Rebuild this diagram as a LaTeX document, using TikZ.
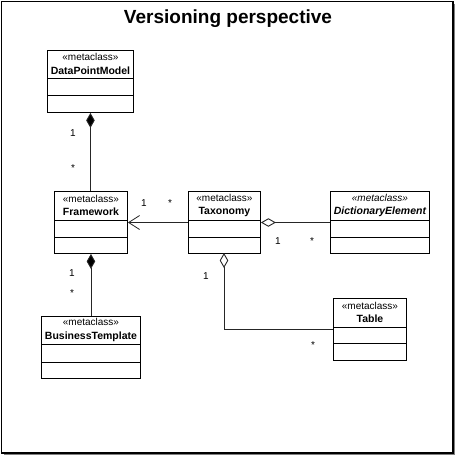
\documentclass[tikz,border=0pt]{standalone}
\usepackage{fontspec}
\setmainfont{Liberation Sans}
\usetikzlibrary{arrows.meta}
\tikzset{
  clsbox/.style={draw=black, line width=0.9pt, anchor=north west, inner sep=0pt, fill=white},
  hdr/.style={align=center, inner sep=0pt, font=\fontsize{10}{13.5}\selectfont},
  conn/.style={draw=black!85, line width=0.9pt},
  mult/.style={inner sep=0pt, font=\fontsize{10}{11}\selectfont},
  comp/.style={{Diamond[length=15pt,width=8.5pt,fill=black]}-},
  aggr/.style={{Diamond[length=15pt,width=8.5pt,open,fill=white]}-},
  nav/.style={-{Straight Barb[length=11pt,width=14pt,line width=0.8pt]}},
}
% #1 name, #2 x, #3 y, #4 width, #5 height, #6 header height, #7 second sep offset, #8 text
\newcommand{\umlcls}[8]{%
  \node[clsbox, minimum width=#4pt, minimum height=#5pt] (#1) at (#2,#3) {};
  \draw[line width=0.9pt] ([yshift=-#6pt]#1.north west) -- ([yshift=-#6pt]#1.north east);
  \draw[line width=0.9pt] ([yshift=-#7pt]#1.north west) -- ([yshift=-#7pt]#1.north east);
  \node[hdr] (#1-hdr) at ([yshift=-#6pt/2]#1.north) {#8};
}
\begin{document}
\begin{tikzpicture}[x=1pt,y=-1pt]
\useasboundingbox (0,0) rectangle (456,456);
\fill[white] (0,0) rectangle (456,456);
% frame with shadow
\draw[gray, line width=1.6pt] (4,454.6) -- (454.6,454.6) -- (454.6,4);
\draw[black, line width=1.6pt] (1.6,1.6) rectangle (452.8,452.8);
\node[font=\fontsize{19}{22}\selectfont\bfseries, anchor=base] (title) at (228,23.5) {Versioning perspective};

\umlcls{dpm}{47}{50}{86}{62}{28}{45}{«metaclass»\\{\fontsize{10.5}{13.5}\selectfont\bfseries DataPointModel}}
\umlcls{fw}{54}{191}{73}{62}{29}{46}{«metaclass»\\{\fontsize{10.5}{13.5}\selectfont\bfseries Framework}}
\umlcls{tax}{188}{191}{72}{62}{29}{46}{«metaclass»\\{\fontsize{10.5}{13.5}\selectfont\bfseries Taxonomy}}
\umlcls{dict}{330}{191}{99}{62}{29}{46}{\itshape «metaclass»\\{\fontsize{10.5}{13.5}\selectfont\bfseries\itshape DictionaryElement}}
\umlcls{bt}{41}{316}{99}{62}{28}{46}{«metaclass»\\{\fontsize{10.5}{13.5}\selectfont\bfseries BusinessTemplate}}
\umlcls{tab}{333}{298}{73}{62}{29}{45}{«metaclass»\\{\fontsize{10.5}{13.5}\selectfont\bfseries Table}}

% connectors
\draw[conn, comp] (dpm.south) -- (dpm.south |- fw.north);
\draw[conn, comp] (fw.south) -- (fw.south |- bt.north);
\coordinate (taxL) at ([yshift=-31.5pt]tax.north west);
\draw[conn, nav] (taxL) -- (taxL -| fw.east);
\coordinate (taxR) at ([yshift=-31.5pt]tax.north east);
\draw[conn, aggr] (taxR) -- (taxR -| dict.west);
\coordinate (taxB) at (224,253);
\coordinate (tabL) at ([yshift=-31pt]tab.north west);
\draw[conn, aggr] (taxB) -- (taxB |- tabL) -- (tabL);

% multiplicities
\node[mult] (m1) at (73,133) {1};
\node[mult] (m2) at (73,168) {*};
\node[mult] (m3) at (144,203) {1};
\node[mult] (m4) at (170,203) {*};
\node[mult] (m5) at (278,241) {1};
\node[mult] (m6) at (312,241) {*};
\node[mult] (m7) at (72,273) {1};
\node[mult] (m8) at (72,293) {*};
\node[mult] (m9) at (206,276) {1};
\node[mult] (m10) at (313,345) {*};
\end{tikzpicture}
\end{document}
